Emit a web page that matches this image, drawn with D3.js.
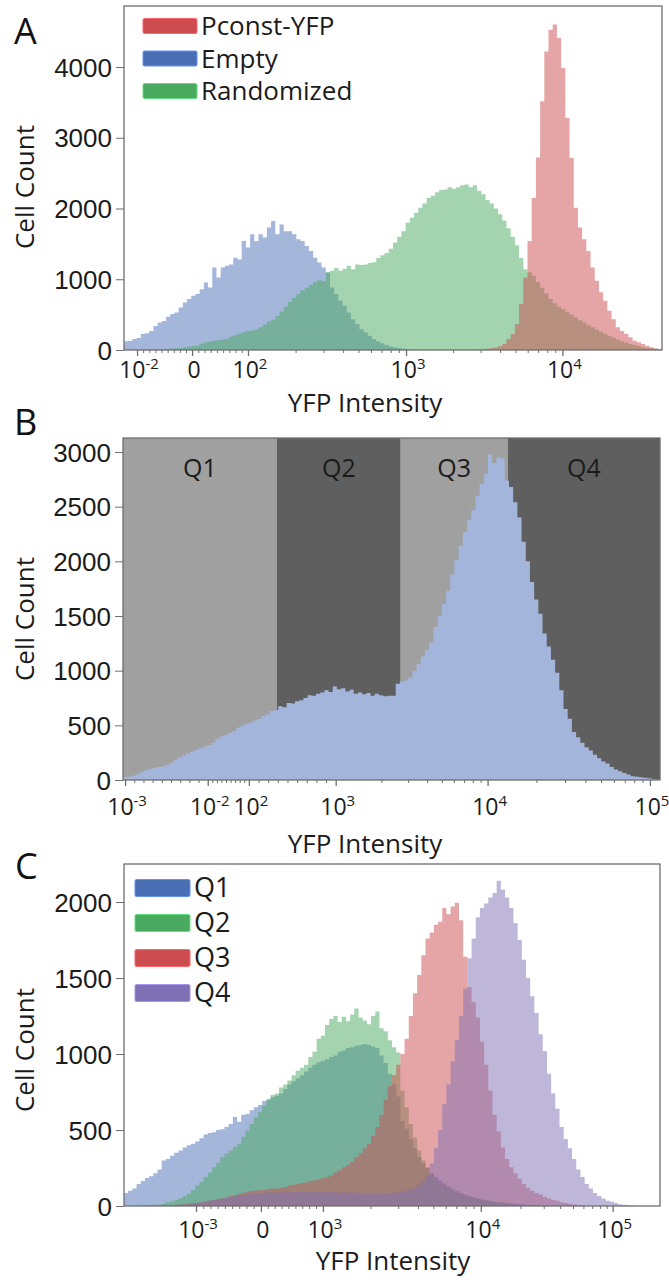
<!DOCTYPE html>
<html>
<head>
<meta charset="utf-8">
<script src="https://cdn.jsdelivr.net/npm/d3@7"></script>
<style>
  html, body { margin: 0; padding: 0; background: #fff; }
  svg { display: block; font-family: "Open Sans", "Noto Sans", sans-serif; }
</style>
</head>
<body>
<svg id="fig" width="669" height="1280"></svg>
<script>
// Histograms are binned on display channels (0-128) of the logicle YFP axis.

// ---------- Panel A: control constructs ----------
const seriesA = ["Pconst-YFP", "Empty", "Randomized"];
const emptyStart = 0;
const emptyCounts = [
  122,130,155,170,225,235,270,340,390,410,
  470,510,530,600,670,720,765,790,860,955,
  885,1165,1025,1165,1190,1210,1305,1280,1540,1450,
  1635,1540,1635,1590,1730,1825,1635,1775,1680,1680,
  1635,1565,1540,1470,1400,1305,1235,1165,1095,885,
  790,695,625,530,435,365,295,250,200,155,
  120,95,70,50,38,28,18,12,8,5,
  3
];
const randomizedStart = 0;
const randomizedCounts = [
  5,5,8,8,10,10,12,12,15,15,
  18,20,25,30,40,50,55,65,90,110,
  120,130,140,150,160,190,210,230,250,265,
  275,290,320,360,400,430,480,540,610,680,
  740,790,840,880,920,960,985,970,1100,1120,
  1160,1120,1150,1190,1140,1210,1200,1210,1230,1240,
  1300,1340,1370,1430,1520,1600,1680,1800,1870,1940,
  2010,2070,2150,2180,2230,2260,2270,2300,2280,2300,
  2330,2340,2300,2330,2250,2200,2120,2070,2000,1920,
  1830,1720,1600,1480,1300,1140,1100,1050,960,880,
  800,720,660,610,580,540,500,460,420,390,
  350,320,290,260,230,200,175,150,125,105,
  85,70,55,40,30,20,12,6
];
const pconstStart = 83;
const pconstCounts = [
  5,8,12,18,25,35,52,85,155,225,
  365,650,1025,1540,2150,2720,3515,4220,4525,4600,
  4410,3985,3280,2715,2010,1730,1565,1400,1165,980,
  815,695,555,435,320,270,225,180,130,110,
  85,60,38,24,14
];
const yTicksA = [0, 1000, 2000, 3000, 4000];
const xTickChannelsA = [3.1, 16.2, 29.5, 67.1, 104.3];
const xTickLabelsA = ["10^-2", "0", "10^2", "10^3", "10^4"];

// ---------- Panel B: sorting gates on the library ----------
const librarySortStart = 0;
const librarySortCounts = [
  25,30,40,50,70,90,100,110,120,125,
  140,155,180,205,225,245,260,275,290,305,
  320,340,380,400,410,430,445,480,495,515,
  525,545,560,585,600,630,640,675,665,705,
  700,720,730,750,775,770,790,800,820,805,
  855,830,840,810,825,790,800,785,795,770,
  790,775,765,770,770,880,900,910,935,1000,
  1060,1130,1190,1260,1400,1500,1610,1730,1880,2010,
  2140,2270,2380,2470,2600,2710,2800,2980,2900,2950,
  2940,2740,2680,2540,2400,2180,2000,1810,1650,1520,
  1340,1220,1100,980,820,650,560,440,390,340,
  300,270,230,200,170,150,120,95,80,65,
  50,35,30,25,20,15,10,8
];
const gateNames = ["Q1", "Q2", "Q3", "Q4"];
const gateEdges = [0, 36.7, 66.2, 91.7, 128];
const yTicksB = [0, 500, 1000, 1500, 2000, 2500, 3000];
const xTickChannelsB = [0.5, 20.2, 30.0, 50.7, 86.9, 125.6];
const xTickLabelsB = ["10^-3", "10^-2", "10^2", "10^3", "10^4", "10^5"];

// ---------- Panel C: regrown sorted populations ----------
const seriesC = ["Q1", "Q2", "Q3", "Q4"];
const q1Start = 0;
const q1Counts = [
  85,100,115,145,165,185,195,215,240,300,
  310,330,350,365,385,400,410,425,445,470,
  480,485,500,505,520,540,585,555,600,605,
  630,650,665,690,700,715,725,740,770,800,
  820,840,860,885,910,930,945,955,965,980,
  990,1015,1025,1040,1045,1055,1060,1065,1060,1050,
  1040,990,940,870,800,720,560,510,440,380,
  320,280,250,215,190,170,150,130,115,100,
  85,75,68,60,52,45,40,35,30,27,
  24,20,18,15,13,12,10,8,6,5,4
];
const q2Start = 0;
const q2Counts = [
  0,0,0,2,3,5,6,8,10,15,
  25,30,40,50,65,80,105,135,160,190,
  220,255,285,320,345,365,390,410,455,495,
  540,585,620,660,700,730,740,780,800,825,
  860,890,910,930,980,1015,1100,1120,1190,1230,
  1250,1210,1245,1215,1260,1300,1240,1220,1195,1250,
  1280,1170,1150,1090,1045,1010,760,650,540,450,
  365,300,255,215,180,155,135,115,100,90,
  80,70,60,52,45,40,35,32,28,25,
  22,18,15,13,10,8,6,5,3,2,1
];
const q3Start = 0;
const q3Counts = [
  0,0,0,0,0,1,1,2,2,3,
  3,5,8,10,12,15,18,22,25,30,
  35,40,45,50,55,65,70,80,85,95,
  100,100,105,105,110,115,115,120,125,135,
  140,145,150,155,165,170,175,185,190,200,
  220,235,255,270,290,320,345,380,410,460,
  520,600,700,790,860,930,1000,1100,1250,1400,
  1520,1650,1760,1800,1850,1870,1960,1920,1970,1995,
  1880,1640,1440,1340,1240,1080,930,760,600,490,
  385,310,255,215,180,145,120,100,85,75,
  60,50,40,35,25,20,15,10,8,5
];
const q4Start = 0;
const q4Counts = [
  0,0,0,0,0,0,0,0,0,0,2,3,5,6,8,
  10,15,20,25,30,35,40,45,50,55,
  60,65,70,70,75,80,80,85,85,90,
  85,90,90,90,95,90,95,90,95,90,
  95,90,90,95,90,90,85,90,85,90,
  85,85,80,85,80,80,80,80,85,85,
  90,95,100,110,120,140,160,200,280,380,
  500,670,800,950,1090,1250,1430,1630,1760,1900,
  1960,1990,2030,2060,2140,2080,2030,1960,1860,1750,
  1620,1500,1380,1270,1130,1020,870,740,640,520,
  440,380,310,240,190,145,115,85,65,50,
  35,28,20,12,8,5,3
];
const yTicksC = [0, 500, 1000, 1500, 2000];
const xTickChannelsC = [17.2, 32.7, 47.5, 85.2, 116.7];
const xTickLabelsC = ["10^-3", "0", "10^3", "10^4", "10^5"];

// ---------- drawing ----------
const svg = d3.select("#fig");
const CHANNELS = 128;
const frameColor = "#6e6e6e";
const textColor = "#1b1b1b";

// step outline of a binned histogram
function stepPoints(start, counts) {
  const pts = [];
  counts.forEach((v, i) => { pts.push([start + i, v]); pts.push([start + i + 1, v]); });
  return pts;
}

// minor ticks: log subdivisions between decade labels, even ones in the linear part
function minorTicks(majors, logFrom) {
  const out = [];
  for (let i = 0; i < majors.length - 1; i++) {
    const a = majors[i], b = majors[i + 1];
    for (let m = 2; m <= 9; m++) {
      const f = i >= logFrom ? Math.log10(m) : (m - 1) / 9;
      out.push(a + f * (b - a));
    }
  }
  return out;
}

function tickLabel(g, xpos, ypos, label, size) {
  const t = g.append("text").attr("x", xpos).attr("y", ypos)
    .attr("text-anchor", "middle").attr("fill", textColor)
    .style("font-size", size + "px");
  const parts = label.split("^");
  t.append("tspan").text(parts[0]);
  if (parts[1]) {
    t.append("tspan").attr("dy", -9).style("font-size", Math.round(size * 0.64) + "px").text(parts[1]);
  }
}

function panel(opt) {
  const x = d3.scaleLinear().domain([0, CHANNELS]).range([opt.left, opt.right]);
  const y = d3.scaleLinear().domain([0, opt.yMax]).range([opt.bottom, opt.top]);
  const g = svg.append("g");

  // plot background
  g.append("rect").attr("x", opt.left).attr("y", opt.top)
    .attr("width", opt.right - opt.left).attr("height", opt.bottom - opt.top)
    .attr("fill", "#fff");
  if (opt.beforeSeries) opt.beforeSeries(g, x, y);

  const area = d3.area().x(d => x(d[0])).y0(y(0)).y1(d => y(d[1]));
  opt.series.forEach(s => {
    g.append("path").datum(stepPoints(s.start, s.counts))
      .attr("d", area).attr("fill", s.color).attr("fill-opacity", s.opacity);
  });

  // frame
  g.append("rect").attr("x", opt.left).attr("y", opt.top)
    .attr("width", opt.right - opt.left).attr("height", opt.bottom - opt.top)
    .attr("fill", "none").attr("stroke", frameColor).attr("stroke-width", 1.3);

  // y axis
  const ya = g.append("g").attr("transform", `translate(${opt.left},0)`)
    .call(d3.axisLeft(y).tickValues(opt.yTicks).tickSize(8).tickPadding(4).tickFormat(d3.format("d")));
  ya.select(".domain").remove();
  ya.selectAll(".tick line").attr("stroke", frameColor);
  ya.selectAll(".tick text").attr("fill", textColor)
    .style("font-size", "26px").style("font-family", "inherit").attr("dy", "0.35em");

  // x axis: major and minor ticks
  const minors = minorTicks(opt.xTicks, opt.logFrom);
  const xm = g.append("g").attr("transform", `translate(0,${opt.bottom})`)
    .call(d3.axisBottom(x).tickValues(minors.filter(v => v > 0 && v < CHANNELS)).tickSize(3).tickFormat(""));
  xm.select(".domain").remove();
  xm.selectAll(".tick line").attr("stroke", frameColor);
  const xa = g.append("g").attr("transform", `translate(0,${opt.bottom})`)
    .call(d3.axisBottom(x).tickValues(opt.xTicks).tickSize(6).tickFormat(""));
  xa.select(".domain").remove();
  xa.selectAll(".tick line").attr("stroke", frameColor).attr("stroke-width", 1.3);
  opt.xTicks.forEach((c, i) => tickLabel(g, x(c) + 2, opt.labelY, opt.xLabels[i], 23));

  // titles
  g.append("text").attr("transform", `translate(${opt.yTitleX},${opt.yTitleY}) rotate(-90)`)
    .attr("text-anchor", "middle").attr("fill", textColor).style("font-size", "26px").text("Cell Count");
  g.append("text").attr("x", opt.xTitleX).attr("y", opt.xTitleY)
    .attr("text-anchor", "middle").attr("fill", textColor).style("font-size", "26px").text("YFP Intensity");
  g.append("text").attr("x", opt.letterX).attr("y", opt.letterY)
    .attr("fill", "#111").style("font-size", "36px").text(opt.letter);

  // legend
  if (opt.legend) {
    const L = opt.legend;
    L.names.forEach((n, i) => {
      const cy = L.y0 + i * L.dy;
      g.append("rect").attr("x", L.x).attr("y", cy - L.h / 2).attr("width", L.w).attr("height", L.h)
        .attr("rx", 1.5).attr("fill", L.colors[i])
        .attr("stroke", d3.color(L.colors[i]).brighter(0.8)).attr("stroke-width", 1);
      g.append("text").attr("x", L.x + L.w + 4).attr("y", cy).attr("dy", "0.35em")
        .attr("fill", textColor).style("font-size", L.size + "px").text(n);
    });
  }
}

// Panel A
const colorsA = ["#cc4c50", "#4a6eb5", "#48a95f"];
panel({
  letter: "A", letterX: 14, letterY: 44,
  left: 124, right: 662, top: 6, bottom: 350, yMax: 4862,
  yTicks: yTicksA, xTicks: xTickChannelsA, xLabels: xTickLabelsA, logFrom: 2, labelY: 378,
  yTitleX: 34, yTitleY: 187, xTitleX: 365, xTitleY: 412,
  series: [
    { start: emptyStart, counts: emptyCounts, color: colorsA[1], opacity: 0.5 },
    { start: randomizedStart, counts: randomizedCounts, color: colorsA[2], opacity: 0.5 },
    { start: pconstStart, counts: pconstCounts, color: colorsA[0], opacity: 0.5 }
  ],
  legend: { names: seriesA, colors: colorsA, x: 143, y0: 26, dy: 32.5, w: 54, h: 15, size: 26 }
});

// Panel B
const gateFill = ["#a0a0a0", "#5f5f5f", "#a0a0a0", "#5f5f5f"];
panel({
  letter: "B", letterX: 14, letterY: 435,
  left: 123, right: 660, top: 438, bottom: 780, yMax: 3128,
  yTicks: yTicksB, xTicks: xTickChannelsB, xLabels: xTickLabelsB, logFrom: 3, labelY: 815,
  yTitleX: 34, yTitleY: 619, xTitleX: 365, xTitleY: 853,
  beforeSeries: (g, x, y) => {
    gateNames.forEach((n, i) => {
      g.append("rect").attr("x", x(gateEdges[i])).attr("y", y(3128))
        .attr("width", x(gateEdges[i + 1]) - x(gateEdges[i])).attr("height", y(0) - y(3128))
        .attr("fill", gateFill[i]);
      g.append("text").attr("x", (x(gateEdges[i]) + x(gateEdges[i + 1])) / 2).attr("y", 477)
        .attr("text-anchor", "middle").attr("fill", textColor).style("font-size", "25px").text(n);
    });
  },
  series: [
    { start: librarySortStart, counts: librarySortCounts, color: "#a3b5da", opacity: 1 }
  ]
});

// Panel C
const colorsC = ["#4a6fb5", "#48a95f", "#cc4c50", "#7e70b4"];
panel({
  letter: "C", letterX: 15, letterY: 879,
  left: 124, right: 660, top: 864, bottom: 1206, yMax: 2250,
  yTicks: yTicksC, xTicks: xTickChannelsC, xLabels: xTickLabelsC, logFrom: 2, labelY: 1238,
  yTitleX: 34, yTitleY: 1050, xTitleX: 393, xTitleY: 1270,
  series: [
    { start: q1Start, counts: q1Counts, color: colorsC[0], opacity: 0.5 },
    { start: q2Start, counts: q2Counts, color: colorsC[1], opacity: 0.5 },
    { start: q3Start, counts: q3Counts, color: colorsC[2], opacity: 0.5 },
    { start: q4Start, counts: q4Counts, color: colorsC[3], opacity: 0.5 }
  ],
  legend: { names: seriesC, colors: colorsC, x: 135, y0: 888, dy: 35, w: 55, h: 17, size: 27 }
});
</script>
</body>
</html>
